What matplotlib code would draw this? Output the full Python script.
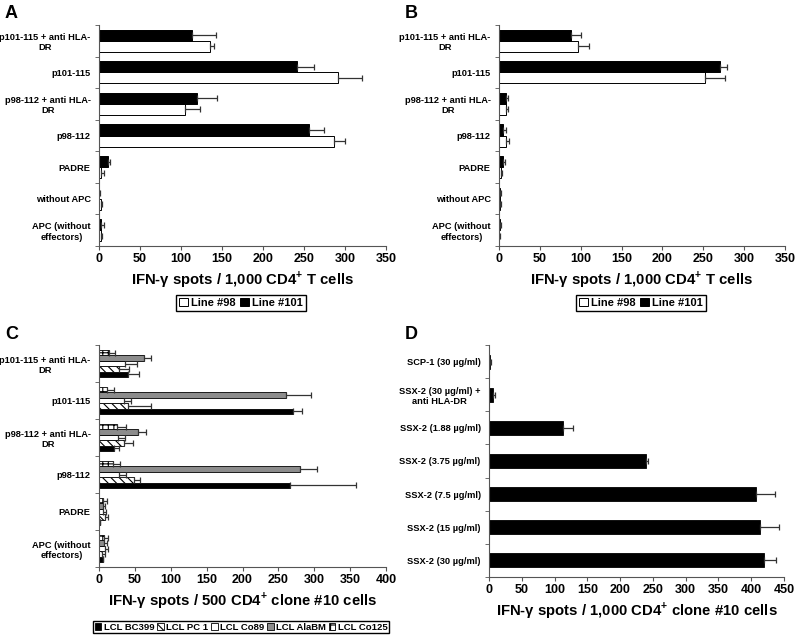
import numpy as np
from matplotlib import pyplot as plt
from matplotlib.patches import Patch
from matplotlib.ticker import FixedLocator, MultipleLocator

plt.rcParams['font.family'] = ['Liberation Sans', 'DejaVu Sans']
plt.rcParams['font.weight'] = 'bold'
plt.rcParams['mathtext.fontset'] = 'custom'
plt.rcParams['mathtext.rm'] = 'Liberation Sans:bold'
plt.rcParams['mathtext.bf'] = 'Liberation Sans:bold'
plt.rcParams['hatch.linewidth'] = 0.8

# ---- panel A / B data (top to bottom) ----
ab_labels = ['p101-115 + anti HLA-\nDR', 'p101-115', 'p98-112 + anti HLA-\nDR', 'p98-112',
             'PADRE', 'without APC', 'APC (without\neffectors)']
a_line98 = [135, 291, 105, 287, 3, 2, 2]
a_line98_err = [5, 30, 18, 13, 3, 2, 2]
a_line101 = [114, 241, 120, 256, 11, 0.5, 3]
a_line101_err = [29, 21, 24, 18, 2, 0.5, 3]

b_line98 = [97, 252, 8, 8.5, 2, 1, 0.5]
b_line98_err = [13, 24, 3, 4, 2, 2, 0.3]
b_line101 = [88, 270, 8, 5, 4.5, 1, 1]
b_line101_err = [12, 9, 3, 4, 3, 1.5, 1]

# ---- panel C data (top to bottom) ----
c_labels = ['p101-115 + anti HLA-\nDR', 'p101-115', 'p98-112 + anti HLA-\nDR', 'p98-112',
            'PADRE', 'APC (without\neffectors)']
c_series = ['LCL BC399', 'LCL PC 1', 'LCL Co89', 'LCL AlaBM', 'LCL Co125']
c_bc399 = [41, 270, 21, 266, 2, 5]
c_bc399_err = [15, 13, 7, 92, 0, 0]
c_pc1 = [28, 41, 35, 49, 8, 4]
c_pc1_err = [14, 31, 12, 8, 4, 4]
c_co89 = [36, 35, 26, 28, 6, 8]
c_co89_err = [17, 9, 10, 10, 4, 4]
c_alabm = [63, 261, 54, 280, 5, 6.5]
c_alabm_err = [9, 34, 12, 24, 3, 4]
c_co125 = [14, 11, 25, 19, 6, 7]
c_co125_err = [8, 10, 12, 10, 5, 6]

# ---- panel D data (top to bottom) ----
d_labels = ['SCP-1 (30 µg/ml)', 'SSX-2 (30 µg/ml) +\nanti HLA-DR', 'SSX-2 (1.88 µg/ml)',
            'SSX-2 (3.75 µg/ml)', 'SSX-2 (7.5 µg/ml)', 'SSX-2 (15 µg/ml)', 'SSX-2 (30 µg/ml)']
d_values = [2, 6, 113, 240, 407, 414, 420]
d_err = [1, 2.5, 15, 2, 30, 29, 18]

ERR_KW = dict(ecolor='#333333', elinewidth=0.9, capsize=2, capthick=0.9)
TICK_FS = 6.7
XTICK_FS = 9
XLABEL_FS = 10.7


def style_axe(axe, labels, x_max, x_step, xlabel):
    n = len(labels)
    axe.set_xlim(0, x_max)
    axe.set_ylim(-0.5, n - 0.5)
    axe.spines['top'].set_visible(False)
    axe.spines['right'].set_visible(False)
    axe.spines['left'].set_color('#555555')
    axe.spines['bottom'].set_color('#555555')
    axe.xaxis.set_major_locator(MultipleLocator(x_step))
    axe.tick_params(axis='x', labelsize=XTICK_FS, length=3, color='#555555', pad=2)
    # category labels on the y axis, ticks at the boundaries
    axe.yaxis.set_major_locator(FixedLocator(np.arange(n)))
    axe.set_yticklabels(labels[::-1], fontsize=TICK_FS, multialignment='center')
    axe.yaxis.set_minor_locator(FixedLocator(np.arange(n + 1) - 0.5))
    axe.tick_params(axis='y', which='major', length=0, pad=6)
    axe.tick_params(axis='y', which='minor', length=3, color='#555555')
    axe.set_xlabel(xlabel, fontsize=XLABEL_FS, fontweight='bold', labelpad=3)


def draw_two_lines(axe, line98, err98, line101, err101, fig, legend_x):
    n = len(ab_labels)
    y = np.arange(n)[::-1]
    h = 0.35
    axe.barh(y - h / 2, line98, height=h, color='white', edgecolor='black', linewidth=0.7,
             xerr=[np.zeros(n), err98], error_kw=ERR_KW)
    axe.barh(y + h / 2, line101, height=h, color='black', edgecolor='black', linewidth=0.7,
             xerr=[np.zeros(n), err101], error_kw=ERR_KW)
    style_axe(axe, ab_labels, 350, 50, 'IFN-γ spots / 1,000 CD4$^{+}$ T cells')
    handles = [Patch(facecolor='white', edgecolor='black', linewidth=0.7),
               Patch(facecolor='black', edgecolor='black', linewidth=0.7)]
    fig.legend(handles, ['Line #98', 'Line #101'], ncol=2, loc='center',
               bbox_to_anchor=(legend_x, 1 - 303 / 638), fontsize=8,
               handlelength=0.8, handleheight=0.8, handletextpad=0.3, columnspacing=0.4,
               borderpad=0.25, fancybox=False, edgecolor='black', framealpha=1)


fig = plt.figure(figsize=(7.96, 6.38), dpi=100)

ax_a = fig.add_axes([99 / 796, 1 - 246 / 638, 287 / 796, 221 / 638])
ax_b = fig.add_axes([499 / 796, 1 - 246 / 638, 286 / 796, 221 / 638])
ax_c = fig.add_axes([99 / 796, 1 - 567 / 638, 287 / 796, 222 / 638])
ax_d = fig.add_axes([489 / 796, 1 - 577 / 638, 295 / 796, 232 / 638])

draw_two_lines(ax_a, a_line98, a_line98_err, a_line101, a_line101_err, fig, 241 / 796)
draw_two_lines(ax_b, b_line98, b_line98_err, b_line101, b_line101_err, fig, 641 / 796)

# panel C: five LCL lines
n_c = len(c_labels)
y_c = np.arange(n_c)[::-1]
h_c = 0.145
c_vals = [c_bc399, c_pc1, c_co89, c_alabm, c_co125]
c_errs = [c_bc399_err, c_pc1_err, c_co89_err, c_alabm_err, c_co125_err]
c_faces = ['black', 'white', 'white', '#8c8c8c', 'white']
c_hatches = [None, '\\\\\\\\', None, None, '+++']
c_handles = []
for k in range(5):
    offset = (k - 2) * h_c
    ax_c.barh(y_c + offset, c_vals[k], height=h_c, color=c_faces[k], edgecolor='black',
              linewidth=0.6, hatch=c_hatches[k],
              xerr=[np.zeros(n_c), c_errs[k]], error_kw=ERR_KW)
    c_handles.append(Patch(facecolor=c_faces[k], edgecolor='black', linewidth=0.6,
                           hatch=c_hatches[k]))
style_axe(ax_c, c_labels, 400, 50, 'IFN-γ spots / 500 CD4$^{+}$ clone #10 cells')
fig.legend(c_handles, c_series, ncol=5, loc='center',
           bbox_to_anchor=(241 / 796, 1 - 627 / 638), fontsize=6.8,
           handlelength=0.7, handleheight=0.7, handletextpad=0.25, columnspacing=0.3,
           borderpad=0.2, fancybox=False, edgecolor='black', framealpha=1)

# panel D: SSX-2 protein titration
n_d = len(d_labels)
y_d = np.arange(n_d)[::-1]
ax_d.barh(y_d, d_values, height=0.42, color='black', edgecolor='black', linewidth=0.6,
          xerr=[np.zeros(n_d), d_err], error_kw=ERR_KW)
style_axe(ax_d, d_labels, 450, 50, 'IFN-γ spots / 1,000 CD4$^{+}$ clone #10 cells')

for letter, x, y in [('A', 5, 5), ('B', 405, 5), ('C', 5, 326), ('D', 405, 326)]:
    fig.text(x / 796, 1 - y / 638, letter, fontsize=13, fontweight='bold', va='top', ha='left')

fig.savefig('out.png', dpi=100)
